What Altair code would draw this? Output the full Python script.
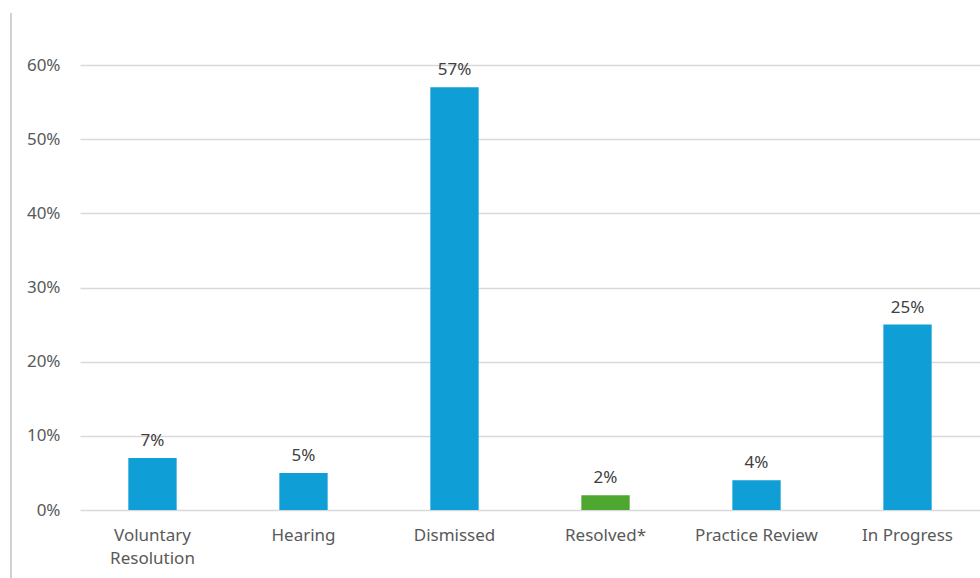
import altair as alt
import pandas as pd

categories = ["Voluntary Resolution", "Hearing", "Dismissed", "Resolved*", "Practice Review", "In Progress"]
values = [0.07, 0.05, 0.57, 0.02, 0.04, 0.25]
colors = ["#0F9ED5", "#0F9ED5", "#0F9ED5", "#4EA72E", "#0F9ED5", "#0F9ED5"]
labels = ["7%", "5%", "57%", "2%", "4%", "25%"]

df = pd.DataFrame({"cat": categories, "val": values, "color": colors, "label": labels})

FONT = "Noto Sans"
x = alt.X("cat:N", sort=categories, title=None,
          scale=alt.Scale(paddingInner=0.68, paddingOuter=0.32),
          axis=alt.Axis(labelAngle=0, labelFontSize=17, labelColor="#595959", labelFont=FONT,
                        ticks=False, domain=False, labelPadding=17, labelLimit=200,
                        labelExpr="datum.label == 'Voluntary Resolution' ? ['Voluntary', 'Resolution'] : datum.label",
                        labelLineHeight=23))
y = alt.Y("val:Q", title=None,
          scale=alt.Scale(domain=[0, 0.6], nice=False),
          axis=alt.Axis(format=".0%", values=[0, 0.1, 0.2, 0.3, 0.4, 0.5, 0.6], labelFontSize=17,
                        labelColor="#595959", labelFont=FONT, ticks=False, domain=False,
                        labelPadding=20, gridColor="#D9D9D9", gridWidth=1.3))

bars = alt.Chart(df).mark_bar().encode(x=x, y=y, color=alt.Color("color:N", scale=None))
text = alt.Chart(df).mark_text(baseline="bottom", dy=-8, fontSize=17, color="#404040", font=FONT).encode(
    x=alt.X("cat:N", sort=categories), y="val:Q", text="label:N")
border = alt.Chart(df).mark_rule(color="#D0D0D0", strokeWidth=1.5).encode(
    x=alt.value(-69), y=alt.value(-52), y2=alt.value(513))

chart = alt.layer(bars, text, border).properties(
    width=900, height=445,
    autosize=alt.AutoSizeParams(type="none"),
    padding={"left": 80, "top": 65, "right": 0, "bottom": 68},
    background="white",
).configure_view(stroke=None)

chart.save("out.html", embed_options={"renderer": "svg", "actions": False})
